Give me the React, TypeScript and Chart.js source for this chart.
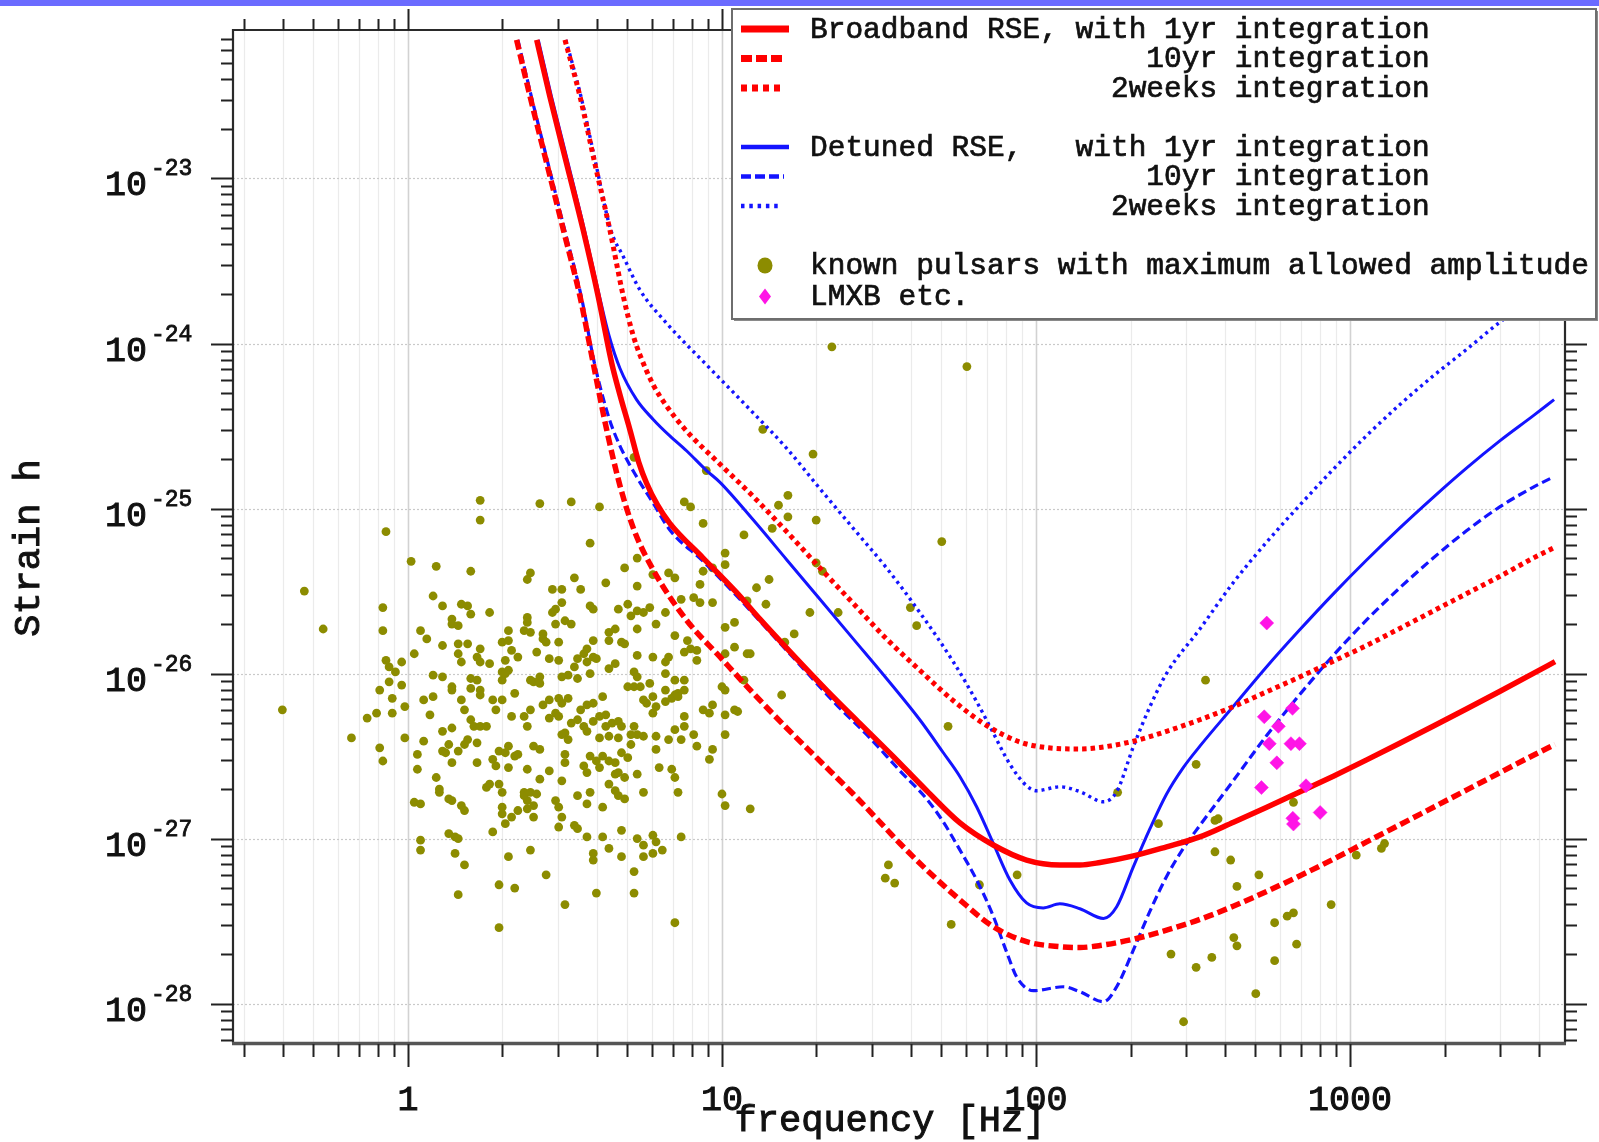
import React, { useEffect, useRef } from "react";
import { Chart, registerables } from "chart.js";

Chart.register(...registerables);

// ---------------- data ----------------
// axis ranges
const freqRange: [number, number] = [0.2772, 4839]; // Hz
const strainRange: [number, number] = [5.77e-29, 7.94e-23];

const xTickValues = [1, 10, 100, 1000];
const xTickLabels = ["1", "10", "100", "1000"];
const yTickExponents = [-23, -24, -25, -26, -27, -28];

const xAxisTitle = "frequency [Hz]";
const yAxisTitle = "Strain h";

// curves, each point: [log10(frequency / Hz), log10(strain)]
const broadband1yr: [number, number][] = [
  [0.41, -22.16], [0.452, -22.504], [0.505, -22.908], [0.558, -23.312], [0.606, -23.716],
  [0.649, -24.12], [0.675, -24.31], [0.707, -24.524], [0.735, -24.72], [0.76, -24.847],
  [0.795, -24.98], [0.834, -25.09], [0.94, -25.3], [1.047, -25.51], [1.121, -25.67],
  [1.227, -25.888], [1.333, -26.1], [1.439, -26.302], [1.546, -26.504], [1.652, -26.71],
  [1.758, -26.905], [1.864, -27.039], [1.97, -27.13], [2.076, -27.16], [2.14, -27.16],
  [2.204, -27.145], [2.31, -27.105], [2.416, -27.05], [2.522, -26.99], [2.629, -26.901],
  [2.735, -26.81], [2.841, -26.717], [2.947, -26.622], [3.053, -26.523], [3.16, -26.421],
  [3.266, -26.318], [3.372, -26.213], [3.478, -26.107], [3.584, -25.999], [3.653, -25.928],
];
const broadband10yr: [number, number][] = [
  [0.346, -22.16], [0.389, -22.504], [0.442, -22.908], [0.495, -23.312], [0.548, -23.716],
  [0.59, -24.12], [0.633, -24.524], [0.675, -24.86], [0.72, -25.13], [0.781, -25.372],
  [0.887, -25.676], [0.993, -25.898], [1.1, -26.12], [1.206, -26.33], [1.312, -26.53],
  [1.418, -26.73], [1.503, -26.9], [1.567, -27.03], [1.652, -27.19], [1.758, -27.372],
  [1.864, -27.534], [1.97, -27.625], [2.076, -27.655], [2.14, -27.66], [2.204, -27.648],
  [2.31, -27.61], [2.416, -27.555], [2.522, -27.49], [2.628, -27.41], [2.735, -27.32],
  [2.841, -27.225], [2.947, -27.125], [3.053, -27.02], [3.16, -26.915], [3.266, -26.81],
  [3.372, -26.705], [3.478, -26.6], [3.584, -26.495], [3.653, -26.43],
];
const broadband2weeks: [number, number][] = [
  [0.5, -22.16], [0.548, -22.504], [0.595, -22.908], [0.643, -23.312], [0.686, -23.716],
  [0.717, -23.95], [0.739, -24.07], [0.781, -24.25], [0.824, -24.38], [0.887, -24.53],
  [0.993, -24.73], [1.1, -24.928], [1.206, -25.14], [1.312, -25.36], [1.418, -25.575],
  [1.524, -25.79], [1.63, -25.98], [1.737, -26.165], [1.843, -26.315], [1.949, -26.415],
  [2.04, -26.45], [2.14, -26.457], [2.204, -26.448], [2.31, -26.41], [2.416, -26.35],
  [2.522, -26.28], [2.629, -26.2], [2.735, -26.11], [2.841, -26.02], [2.947, -25.925],
  [3.053, -25.83], [3.16, -25.725], [3.266, -25.62], [3.372, -25.515], [3.478, -25.41],
  [3.584, -25.3], [3.653, -25.235],
];
const detuned1yr: [number, number][] = [
  [0.415, -22.16], [0.457, -22.504], [0.51, -22.908], [0.562, -23.312], [0.61, -23.716],
  [0.64, -23.95], [0.675, -24.15], [0.728, -24.34], [0.781, -24.46], [0.834, -24.56],
  [0.887, -24.65], [0.951, -24.77], [0.993, -24.84], [1.1, -25.07], [1.206, -25.31],
  [1.312, -25.55], [1.418, -25.79], [1.524, -26.03], [1.63, -26.28], [1.705, -26.48],
  [1.758, -26.625], [1.811, -26.807], [1.864, -27.029], [1.917, -27.251], [1.97, -27.39],
  [2.023, -27.42], [2.076, -27.395], [2.14, -27.425], [2.215, -27.484], [2.257, -27.413],
  [2.31, -27.171], [2.363, -26.94], [2.416, -26.73], [2.469, -26.57], [2.522, -26.44],
  [2.628, -26.2], [2.734, -25.96], [2.84, -25.735], [2.947, -25.517], [3.053, -25.312],
  [3.159, -25.117], [3.265, -24.932], [3.371, -24.755], [3.477, -24.59], [3.584, -24.437],
  [3.65, -24.34],
];
const detuned10yr: [number, number][] = [
  [0.35, -22.16], [0.393, -22.504], [0.446, -22.908], [0.499, -23.312], [0.552, -23.716],
  [0.594, -24.12], [0.64, -24.45], [0.675, -24.62], [0.728, -24.807], [0.781, -24.968],
  [0.834, -25.13], [0.94, -25.32], [1.047, -25.53], [1.153, -25.75], [1.259, -25.97],
  [1.365, -26.19], [1.471, -26.39], [1.567, -26.59], [1.652, -26.76], [1.705, -26.9],
  [1.758, -27.07], [1.811, -27.25], [1.864, -27.47], [1.907, -27.69], [1.939, -27.84],
  [1.992, -27.922], [2.087, -27.898], [2.14, -27.928], [2.215, -27.989], [2.257, -27.898],
  [2.31, -27.676], [2.363, -27.44], [2.416, -27.23], [2.469, -27.06], [2.522, -26.92],
  [2.628, -26.65], [2.734, -26.377], [2.84, -26.127], [2.947, -25.89], [3.053, -25.675],
  [3.159, -25.48], [3.265, -25.3], [3.371, -25.135], [3.477, -24.99], [3.584, -24.87],
  [3.647, -24.81],
];
const detuned2weeks: [number, number][] = [
  [0.503, -22.16], [0.551, -22.504], [0.598, -22.908], [0.646, -23.312], [0.686, -23.474],
  [0.739, -23.676], [0.824, -23.878], [0.951, -24.13], [1.079, -24.38], [1.206, -24.635],
  [1.312, -24.88], [1.418, -25.12], [1.524, -25.36], [1.63, -25.63], [1.737, -25.93],
  [1.811, -26.17], [1.864, -26.36], [1.917, -26.55], [1.97, -26.68], [2.002, -26.71],
  [2.077, -26.686], [2.14, -26.716], [2.215, -26.777], [2.257, -26.716], [2.31, -26.444],
  [2.363, -26.2], [2.416, -25.999], [2.522, -25.73], [2.628, -25.45], [2.734, -25.205],
  [2.84, -24.98], [2.947, -24.762], [3.053, -24.558], [3.159, -24.37], [3.266, -24.195],
  [3.372, -24.035], [3.478, -23.87], [3.653, -23.64],
];

// known pulsars: [log10 f, log10 h]
const knownPulsars: [number, number][] = [
  [0.23,-24.95],[0.23,-25.07],[0.42,-24.97],[0.52,-24.96],[0.61,-24.99],[-0.07,-25.14],[0.58,-25.21],[0.88,-24.96],[0.90,-24.99],[0.94,-25.09],
  [1.07,-25.16],[1.01,-25.27],[1.01,-25.34],[0.97,-25.36],[0.94,-25.38],[0.01,-25.32],[0.09,-25.35],[0.20,-25.38],[0.73,-25.30],[0.69,-25.36],
  [0.53,-25.42],[0.63,-25.45],[0.55,-25.49],[0.73,-25.47],[0.83,-25.39],[0.85,-25.42],[0.93,-25.46],[0.78,-25.40],[0.39,-25.39],[0.38,-25.43],
  [-0.33,-25.50],[-0.08,-25.60],[-0.08,-25.74],[-0.27,-25.73],[0.08,-25.53],[0.11,-25.59],[0.17,-25.58],[0.19,-25.59],[0.20,-25.64],[0.26,-25.63],
  [0.14,-25.67],[0.14,-25.70],[0.16,-25.71],[0.04,-25.74],[0.06,-25.79],[0.11,-25.83],[0.02,-25.88],[0.46,-25.49],[0.49,-25.49],[0.49,-25.57],
  [0.46,-25.63],[0.47,-25.61],[0.58,-25.59],[0.59,-25.61],[0.67,-25.61],[0.70,-25.58],[0.71,-25.65],[0.73,-25.62],[0.75,-25.63],[0.77,-25.60],
  [0.82,-25.63],[0.87,-25.55],[0.91,-25.54],[0.93,-25.57],[0.97,-25.57],[0.79,-25.70],[0.73,-25.73],[1.01,-25.72],[1.04,-25.69],[1.08,-25.56],
  [0.38,-25.66],[0.38,-25.69],[0.37,-25.74],[0.39,-25.75],[0.50,-25.68],[0.52,-25.70],[0.47,-25.70],[0.32,-25.74],[0.43,-25.76],[0.43,-25.79],
  [0.44,-25.81],[0.48,-25.81],[0.41,-25.87],[0.45,-25.91],[0.48,-25.92],[0.30,-25.81],[0.32,-25.80],[0.33,-25.86],[0.31,-25.92],[0.35,-25.90],
  [0.32,-25.98],[0.30,-25.99],[0.16,-25.82],[0.19,-25.82],[0.23,-25.85],[0.16,-25.88],[0.17,-25.93],[0.22,-25.90],[0.23,-25.93],[0.26,-25.94],
  [-0.07,-25.92],[-0.06,-25.96],[-0.02,-25.93],[-0.04,-25.99],[0.59,-25.80],[0.57,-25.85],[0.56,-25.88],[0.57,-25.93],[0.54,-25.91],[0.53,-25.96],
  [0.59,-25.90],[0.60,-25.91],[0.64,-25.80],[0.64,-25.75],[0.66,-25.73],[0.68,-25.81],[0.69,-25.82],[0.64,-25.97],[0.66,-25.94],[0.58,-26.00],
  [0.54,-26.03],[0.51,-26.01],[0.49,-26.02],[0.73,-25.89],[0.78,-25.90],[0.82,-25.93],[0.83,-25.90],[0.88,-25.87],[0.90,-25.85],[0.92,-25.86],
  [0.92,-25.92],[1.01,-25.88],[1.04,-25.84],[1.08,-25.88],[0.85,-25.77],[0.89,-25.80],[0.72,-25.99],[0.73,-26.02],[0.70,-26.08],[0.72,-26.08],
  [0.74,-26.08],[0.77,-26.06],[0.82,-26.00],[0.85,-26.04],[0.88,-26.04],[0.88,-26.10],[0.82,-26.10],[0.85,-26.13],[0.86,-26.12],[0.78,-26.14],
  [0.75,-26.16],[1.00,-26.08],[1.01,-26.10],[1.07,-26.04],[-0.40,-26.22],[-0.13,-26.27],[-0.10,-26.24],[-0.09,-26.10],[-0.06,-26.05],[-0.05,-26.15],
  [-0.05,-26.24],[-0.02,-26.07],[-0.01,-26.20],[-0.18,-26.39],[-0.09,-26.45],[-0.08,-26.53],[-0.01,-26.39],[0.05,-26.41],[0.03,-26.49],[0.03,-26.58],
  [0.05,-26.16],[0.08,-26.01],[0.08,-26.14],[0.11,-26.02],[0.07,-26.25],[0.11,-26.35],[0.14,-26.33],[0.14,-26.08],[0.14,-26.10],[0.17,-26.16],
  [0.18,-26.22],[0.20,-26.09],[0.22,-26.04],[0.23,-26.10],[0.20,-26.03],[0.23,-26.13],[0.20,-26.28],[0.21,-26.32],[0.19,-26.40],[0.22,-26.42],
  [0.23,-26.32],[0.25,-26.32],[0.27,-26.16],[0.28,-26.22],[0.30,-26.16],[0.30,-26.04],[0.31,-26.00],[0.34,-26.12],[0.33,-26.26],[0.37,-26.26],
  [0.38,-26.32],[0.39,-26.22],[0.40,-26.05],[0.39,-26.04],[0.42,-26.02],[0.42,-26.06],[0.43,-26.19],[0.45,-26.16],[0.48,-26.15],[0.49,-26.18],
  [0.51,-26.15],[0.47,-26.24],[0.45,-26.27],[0.48,-26.26],[0.52,-26.30],[0.50,-26.36],[0.49,-26.37],[0.51,-26.40],[0.55,-26.22],[0.57,-26.19],
  [0.59,-26.18],[0.62,-26.14],[0.56,-26.32],[0.54,-26.28],[0.57,-26.35],[0.59,-26.29],[0.61,-26.26],[0.63,-26.25],[0.63,-26.32],[0.65,-26.30],
  [0.67,-26.29],[0.68,-26.32],[0.64,-26.38],[0.67,-26.39],[0.61,-26.39],[0.72,-26.32],[0.73,-26.37],[0.75,-26.38],[0.76,-26.18],[0.78,-26.24],
  [0.79,-26.20],[0.82,-26.17],[0.84,-26.15],[0.86,-26.14],[0.88,-26.26],[0.88,-26.32],[0.85,-26.34],[0.83,-26.40],[0.87,-26.40],[0.91,-26.37],
  [0.92,-26.44],[0.96,-26.52],[0.97,-26.46],[0.94,-26.22],[0.96,-26.24],[0.97,-26.19],[1.01,-26.37],[1.01,-26.25],[1.04,-26.22],[1.05,-26.23],
  [0.79,-26.38],[0.79,-26.46],[0.71,-26.37],[0.71,-26.43],[0.70,-26.51],[0.68,-26.48],[0.66,-26.54],[0.69,-26.63],[0.64,-26.67],
  [0.73,-26.61],[0.80,-26.57],[0.84,-26.58],[0.85,-26.63],[0.86,-26.72],[1.00,-26.73],[1.01,-26.80],[1.09,-26.82],[0.11,-26.47],[0.13,-26.43],
  [0.12,-26.48],[0.14,-26.54],[0.16,-26.47],[0.18,-26.43],[0.22,-26.54],[0.27,-26.52],[0.28,-26.56],[0.29,-26.47],[0.32,-26.44],[0.31,-26.48],
  [0.32,-26.57],[0.34,-26.50],[0.35,-26.49],[0.38,-26.58],[0.40,-26.44],[0.42,-26.46],[0.42,-26.64],[0.45,-26.59],[0.49,-26.65],[0.50,-26.49],
  [0.50,-26.54],[0.56,-26.56],[0.57,-26.60],[0.58,-26.50],[0.60,-26.53],[0.61,-26.57],[0.62,-26.50],[0.64,-26.53],[0.66,-26.61],[0.67,-26.60],
  [0.09,-26.63],[0.10,-26.70],[0.10,-26.72],[0.02,-26.78],[0.04,-26.79],[0.13,-26.76],[0.14,-26.77],[0.17,-26.80],[0.18,-26.83],[0.25,-26.69],
  [0.26,-26.67],[0.29,-26.67],[0.30,-26.72],[0.30,-26.81],[0.30,-26.85],[0.31,-26.91],[0.27,-26.96],[0.33,-26.87],[0.35,-26.83],[0.37,-26.72],
  [0.38,-26.77],[0.37,-26.74],[0.39,-26.72],[0.41,-26.73],[0.40,-26.80],[0.40,-26.87],[0.38,-26.82],[0.47,-26.77],[0.48,-26.81],[0.49,-26.87],
  [0.48,-26.93],[0.53,-26.92],[0.54,-26.94],[0.54,-26.74],[0.57,-26.79],[0.58,-26.72],[0.57,-26.99],[0.62,-26.81],[0.66,-26.71],[0.67,-26.74],
  [0.69,-26.76],[0.75,-26.72],[0.68,-26.95],[0.62,-26.99],[0.64,-27.06],[0.59,-27.09],[0.59,-27.13],[0.68,-27.11],[0.73,-27.00],[0.75,-27.04],
  [0.78,-26.98],[0.79,-27.02],[0.78,-27.09],[0.75,-27.11],[0.81,-27.07],[0.87,-26.99],[0.72,-27.20],[0.72,-27.33],[0.60,-27.33],[0.50,-27.40],
  [0.44,-27.22],[0.39,-27.07],[0.32,-27.11],[0.29,-27.28],[0.34,-27.30],[0.29,-27.54],[0.16,-27.34],[0.18,-27.16],[0.15,-27.09],[0.13,-26.97],
  [0.15,-26.99],[0.16,-27.00],[0.04,-27.01],[0.04,-27.07],[0.85,-27.51],
  [0.72,-24.69],[0.95,-24.77],[1.78,-24.14],[1.35,-24.02],[1.13,-24.52],[1.29,-24.67],[1.21,-24.92],[1.18,-24.98],[1.21,-25.05],[1.30,-25.07],
  [1.16,-25.12],[1.70,-25.20],[1.30,-25.33],[1.32,-25.38],[1.11,-25.48],[1.15,-25.43],[1.14,-25.58],[1.28,-25.63],[1.37,-25.63],[1.60,-25.60],
  [1.62,-25.71],[1.23,-25.76],[1.20,-25.81],[1.09,-25.88],[1.19,-26.13],[1.72,-26.32],
  [2.54,-26.04],[2.51,-26.55],[2.26,-26.72],[2.39,-26.91],[2.57,-26.89],[2.58,-26.88],[2.82,-26.78],[2.57,-27.08],[2.62,-27.13],[2.71,-27.22],
  [2.64,-27.29],[2.94,-27.40],[2.76,-27.51],[2.80,-27.47],[2.82,-27.45],[2.63,-27.60],[2.64,-27.65],[2.83,-27.64],[2.43,-27.70],[2.51,-27.78],
  [2.56,-27.72],[2.76,-27.74],[2.70,-27.94],[2.47,-28.11],[1.94,-27.22],[1.82,-27.28],[1.73,-27.52],[1.55,-27.27],[1.53,-27.16],[1.52,-27.24],
  [3.02,-27.10],[3.10,-27.06],[3.11,-27.03],
];

// LMXB etc.: [log10 f, log10 h]
const lmxb: [number, number][] = [
  [2.735, -25.694], [2.727, -26.262], [2.817, -26.211], [2.772, -26.32], [2.743, -26.425],
  [2.812, -26.425], [2.839, -26.425], [2.767, -26.541], [2.718, -26.691], [2.86, -26.68],
  [2.905, -26.842], [2.818, -26.877], [2.82, -26.912],
];

const legendLabels = [
  "Broadband RSE, with 1yr integration",
  "                   10yr integration",
  "                 2weeks integration",
  "Detuned RSE,   with 1yr integration",
  "                   10yr integration",
  "                 2weeks integration",
  "known pulsars with maximum allowed amplitude",
  "LMXB etc.",
];

// ---------------- styling ----------------
const RED = "#ff0000";
const BLUE = "#1414ff";
const OLIVE = "#8c8c00";
const PINK = "#ff14e6";
const INK = "#111111";
const FONT = '"Liberation Mono", "DejaVu Sans Mono", monospace';

const toXY = (arr: [number, number][]) =>
  arr.map(([lf, lh]) => ({ x: Math.pow(10, lf), y: Math.pow(10, lh) }));

function logTicks(min: number, max: number) {
  const out: { v: number; major: boolean }[] = [];
  const e0 = Math.floor(Math.log10(min));
  const e1 = Math.ceil(Math.log10(max));
  for (let e = e0; e <= e1; e++) {
    for (let m = 1; m <= 9; m++) {
      const v = m * Math.pow(10, e);
      if (v >= min * 0.9999 && v <= max * 1.0001) out.push({ v, major: m === 1 });
    }
  }
  return out;
}

function heavyText(ctx: CanvasRenderingContext2D, s: string, x: number, y: number, lw = 0.8) {
  ctx.fillText(s, x, y);
  ctx.lineWidth = lw;
  ctx.strokeStyle = ctx.fillStyle as string;
  ctx.setLineDash([]);
  ctx.strokeText(s, x, y);
}

const framePlugin = {
  id: "frameDecor",
  beforeDatasetsDraw(chart: any) {
    const { ctx, chartArea } = chart;
    const { left, right, top, bottom } = chartArea;
    const xs = chart.scales.x;
    const ys = chart.scales.y;
    ctx.save();
    for (const t of logTicks(freqRange[0], freqRange[1])) {
      const px = Math.round(xs.getPixelForValue(t.v)) + 0.5;
      ctx.strokeStyle = t.major ? "#d2d2d2" : "#ebebeb";
      ctx.lineWidth = t.major ? 1.6 : 1.2;
      ctx.beginPath();
      ctx.moveTo(px, top);
      ctx.lineTo(px, bottom);
      ctx.stroke();
    }
    ctx.setLineDash([2, 2]);
    ctx.strokeStyle = "#c9c9c9";
    ctx.lineWidth = 1.2;
    for (const t of logTicks(strainRange[0], strainRange[1])) {
      if (!t.major) continue;
      const py = Math.round(ys.getPixelForValue(t.v)) + 0.5;
      ctx.beginPath();
      ctx.moveTo(left, py);
      ctx.lineTo(right, py);
      ctx.stroke();
    }
    ctx.restore();
  },
  afterDatasetsDraw(chart: any) {
    const { ctx, chartArea } = chart;
    const { left, right, top, bottom } = chartArea;
    const xs = chart.scales.x;
    const ys = chart.scales.y;
    ctx.save();
    // frame
    ctx.strokeStyle = "#2a2a2a";
    ctx.lineWidth = 2.2;
    ctx.beginPath();
    ctx.moveTo(left, bottom);
    ctx.lineTo(left, top);
    ctx.lineTo(right, top);
    ctx.lineTo(right, bottom);
    ctx.stroke();
    ctx.strokeStyle = "#555";
    ctx.lineWidth = 3.5;
    ctx.beginPath();
    ctx.moveTo(left - 1, bottom + 0.5);
    ctx.lineTo(right + 1, bottom + 0.5);
    ctx.stroke();

    // ticks
    ctx.strokeStyle = "#222";
    ctx.lineWidth = 2;
    for (const t of logTicks(freqRange[0], freqRange[1])) {
      const px = Math.round(xs.getPixelForValue(t.v)) + 0.5;
      ctx.beginPath();
      ctx.moveTo(px, bottom + 1);
      ctx.lineTo(px, bottom + (t.major ? 24 : 14));
      ctx.moveTo(px, top);
      ctx.lineTo(px, top - (t.major ? 21 : 11));
      ctx.stroke();
    }
    for (const t of logTicks(strainRange[0], strainRange[1])) {
      const py = Math.round(ys.getPixelForValue(t.v)) + 0.5;
      ctx.beginPath();
      ctx.moveTo(left, py);
      ctx.lineTo(left - (t.major ? 22 : 12), py);
      ctx.moveTo(right, py);
      ctx.lineTo(right + (t.major ? 22 : 12), py);
      ctx.stroke();
    }

    // tick labels
    ctx.fillStyle = INK;
    ctx.textBaseline = "alphabetic";
    ctx.font = `35px ${FONT}`;
    ctx.textAlign = "center";
    xTickValues.forEach((v, i) => {
      const px = xs.getPixelForValue(v);
      heavyText(ctx, xTickLabels[i], px, 1110, 1);
    });
    yTickExponents.forEach((e) => {
      const py = ys.getPixelForValue(Math.pow(10, e));
      ctx.font = `35px ${FONT}`;
      ctx.textAlign = "right";
      heavyText(ctx, "10", 147, py + 17, 1);
      ctx.font = `23px ${FONT}`;
      ctx.textAlign = "left";
      heavyText(ctx, String(e), 151, py - 3, 0.8);
    });

    // axis titles
    ctx.font = `37px ${FONT}`;
    ctx.textAlign = "center";
    heavyText(ctx, xAxisTitle, 890, 1131, 1);
    ctx.save();
    ctx.translate(29, 548);
    ctx.rotate(-Math.PI / 2);
    ctx.textBaseline = "middle";
    heavyText(ctx, yAxisTitle, 0, 0, 1);
    ctx.restore();
    ctx.restore();
  },
  afterDraw(chart: any) {
    const { ctx } = chart;
    ctx.save();
    // top band
    ctx.fillStyle = "#6b6bff";
    ctx.fillRect(0, 0, 1599, 6);

    // legend box
    const bx = 732, by = 9, bw = 864, bh = 310;
    ctx.fillStyle = "#8a8a8a";
    ctx.fillRect(bx + 2, by + 2, bw, bh);
    ctx.fillStyle = "#ffffff";
    ctx.fillRect(bx, by, bw, bh);
    ctx.strokeStyle = "#6e6e6e";
    ctx.lineWidth = 2;
    ctx.strokeRect(bx, by, bw, bh);

    const rows = [
      { y: 29, kind: "line", color: RED, w: 7, dash: [] as number[], x1: 789 },
      { y: 58.5, kind: "line", color: RED, w: 7, dash: [11, 4], x1: 784 },
      { y: 88, kind: "line", color: RED, w: 7, dash: [6, 5], x1: 782 },
      { y: 147, kind: "line", color: BLUE, w: 4.5, dash: [] as number[], x1: 789 },
      { y: 176.5, kind: "line", color: BLUE, w: 4.5, dash: [10, 4], x1: 784 },
      { y: 206, kind: "line", color: BLUE, w: 4.5, dash: [3.5, 4.8], x1: 782 },
      { y: 265.5, kind: "dot", color: OLIVE, w: 0, dash: [] as number[], x1: 0 },
      { y: 296.5, kind: "diamond", color: PINK, w: 0, dash: [] as number[], x1: 0 },
    ];
    rows.forEach((r, i) => {
      if (r.kind === "line") {
        ctx.strokeStyle = r.color;
        ctx.lineWidth = r.w;
        ctx.lineCap = "butt";
        ctx.setLineDash(r.dash);
        ctx.beginPath();
        ctx.moveTo(741, r.y);
        ctx.lineTo(r.x1, r.y);
        ctx.stroke();
        ctx.setLineDash([]);
      } else if (r.kind === "dot") {
        ctx.fillStyle = r.color;
        ctx.beginPath();
        ctx.ellipse(765, r.y, 7.5, 8, 0, 0, Math.PI * 2);
        ctx.fill();
      } else {
        ctx.fillStyle = r.color;
        ctx.beginPath();
        ctx.moveTo(765, r.y - 8);
        ctx.lineTo(771, r.y);
        ctx.lineTo(765, r.y + 8);
        ctx.lineTo(759, r.y);
        ctx.closePath();
        ctx.fill();
      }
      ctx.fillStyle = INK;
      ctx.font = `29.5px ${FONT}`;
      ctx.textAlign = "left";
      ctx.textBaseline = "middle";
      heavyText(ctx, legendLabels[i], 810, r.y + 1, 0.7);
    });
    ctx.restore();
  },
};

export default function App() {
  const canvasRef = useRef<HTMLCanvasElement | null>(null);

  useEffect(() => {
    const canvas = canvasRef.current;
    if (!canvas) return;
    const lineDs = (
      label: string,
      pts: [number, number][],
      color: string,
      width: number,
      dash: number[],
      order: number
    ) => ({
      label,
      data: toXY(pts),
      showLine: true,
      borderColor: color,
      backgroundColor: color,
      borderWidth: width,
      borderDash: dash,
      borderCapStyle: "butt",
      pointRadius: 0,
      pointHoverRadius: 0,
      fill: false,
      cubicInterpolationMode: "monotone",
      order,
    });

    const chart = new Chart(canvas, {
      type: "scatter",
      data: {
        datasets: [
          {
            label: "LMXB etc.",
            data: toXY(lmxb),
            pointStyle: "rectRot",
            pointRadius: 7,
            pointBackgroundColor: PINK,
            pointBorderColor: PINK,
            pointBorderWidth: 0.5,
            showLine: false,
            order: 0,
          },
          lineDs("Broadband 1yr", broadband1yr, RED, 5.5, [], 1),
          lineDs("Broadband 10yr", broadband10yr, RED, 5.5, [10, 4.5], 2),
          lineDs("Broadband 2weeks", broadband2weeks, RED, 5, [4.5, 4], 3),
          lineDs("Detuned 1yr", detuned1yr, BLUE, 3, [], 4),
          lineDs("Detuned 10yr", detuned10yr, BLUE, 3.2, [9, 4.5], 5),
          lineDs("Detuned 2weeks", detuned2weeks, BLUE, 3.4, [3, 4], 6),
          {
            label: "known pulsars",
            data: toXY(knownPulsars),
            pointStyle: "circle",
            pointRadius: 4.4,
            pointBackgroundColor: OLIVE,
            pointBorderColor: OLIVE,
            pointBorderWidth: 0,
            showLine: false,
            order: 7,
          },
        ] as any,
      },
      options: {
        responsive: false,
        maintainAspectRatio: false,
        animation: false,
        devicePixelRatio: 1,
        events: [],
        layout: { padding: { left: 233, top: 30, right: 34, bottom: 99 } },
        plugins: {
          legend: { display: false },
          tooltip: { enabled: false },
          title: { display: false },
        },
        scales: {
          x: {
            type: "logarithmic",
            min: freqRange[0],
            max: freqRange[1],
            display: false,
            bounds: "data",
          },
          y: {
            type: "logarithmic",
            min: strainRange[0],
            max: strainRange[1],
            display: false,
            bounds: "data",
          },
        },
      } as any,
      plugins: [framePlugin],
    });
    return () => chart.destroy();
  }, []);

  return (
    <div
      style={{
        position: "fixed",
        left: 0,
        top: 0,
        width: 1599,
        height: 1142,
        background: "#ffffff",
        overflow: "hidden",
      }}
    >
      <canvas
        ref={canvasRef}
        width={1599}
        height={1142}
        style={{ width: 1599, height: 1142, display: "block" }}
      />
    </div>
  );
}
